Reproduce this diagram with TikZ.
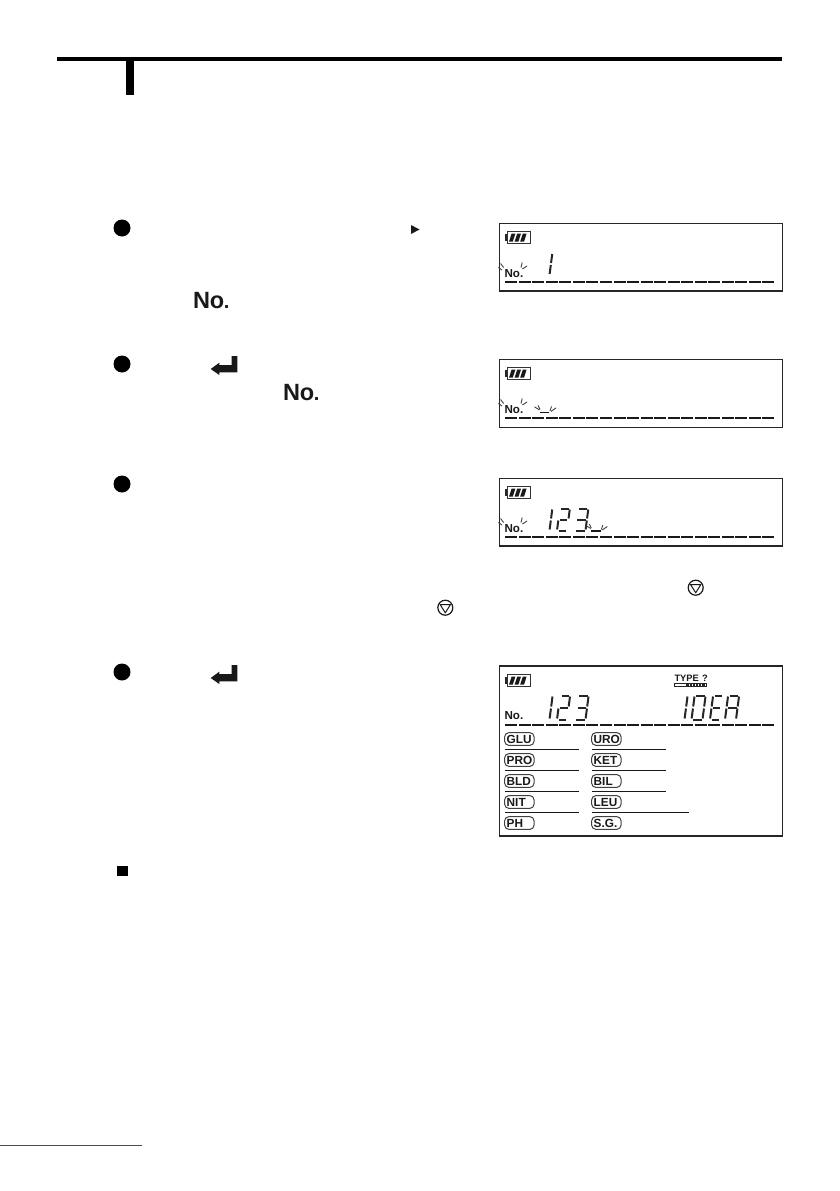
\documentclass[tikz,border=0pt]{standalone}
\usepackage{fontspec}
\setmainfont{Liberation Sans}
\newcommand{\ssz}[1]{\fontsize{#1}{#1}\selectfont}
\tikzset{
  x=1pt,y=-1pt,
  lcdframe/.style={draw=black!85,line width=1.1pt},
  seg/.style={line width=2pt,draw=black!85,line cap=butt},
  pill/.style={draw=black!75,line width=1pt,rounded corners=4pt},
  rowline/.style={draw=black!90,line width=1pt},
  spark/.style={draw=black!75,line width=.9pt},
  lcdtext/.style={inner sep=0pt,anchor=base west,text=black!90},
  bigdot/.style={circle,fill=black,inner sep=0pt,minimum size=17pt},
  downbtn/.style={circle,draw=black!90,line width=1.2pt,inner sep=0pt,minimum size=15pt},
}
% seven-segment digit: #1,#2 bottom-left, #3 width, #4 height, #5 segment list
\newcommand{\segdigit}[5]{%
  \begin{scope}[shift={(#1,#2)},xslant=0.13]
  \foreach \s in {#5}{%
    \ifnum\s=1 \draw[seg] (1.5,-#4) -- (#3-1,-#4);\fi
    \ifnum\s=2 \draw[seg] (#3,-#4+1) -- (#3,-#4/2-1);\fi
    \ifnum\s=3 \draw[seg] (#3,-#4/2+1) -- (#3,-1);\fi
    \ifnum\s=4 \draw[seg] (1.5,0) -- (#3-1,0);\fi
    \ifnum\s=5 \draw[seg] (0,-#4/2+1) -- (0,-1);\fi
    \ifnum\s=6 \draw[seg] (0,-#4+1) -- (0,-#4/2-1);\fi
    \ifnum\s=7 \draw[seg] (1.5,-#4/2) -- (#3-1,-#4/2);\fi
  }%
  \end{scope}}
% battery: #1 = y of body top
\newcommand{\battery}[1]{%
  \begin{scope}[shift={(0,#1)}]
  \draw[draw=black!80,line width=1pt] (507.6,-0.2) rectangle (530,11.8);
  \fill[black!85] (504.8,2.5) rectangle (507.2,9.5);
  \fill[black!90] (509,9.9) -- (511.6,1.9) -- (515.4,1.9) -- (512.8,9.9) -- cycle;
  \fill[black!90] (514.6,9.9) -- (517.2,1.9) -- (521,1.9) -- (518.4,9.9) -- cycle;
  \fill[black!90] (520.2,9.9) -- (522.8,1.9) -- (526.6,1.9) -- (524,9.9) -- cycle;
  \end{scope}}
% LCD dashed baseline: #1 = y
\newcommand{\lcddash}[1]{%
  \foreach \i in {0,...,19}
    \draw[black!90,line width=1.7pt] (505.3+13.53*\i,#1) -- ++(12,0);}
% "No." : #1 baseline y
\newcommand{\lcdno}[1]{\node[lcdtext] at (504.4,#1) {\ssz{11.6}\bfseries No.};}
% sparks around No.: #1 baseline y
\newcommand{\nosparks}[1]{%
  \draw[spark] (500.6,#1-13.5) -- (503.6,#1-9.5);
  \draw[spark] (498.4,#1-9.5) -- (502,#1-7);
  \draw[spark] (522.2,#1-14.5) -- (521,#1-9.5);
  \draw[spark] (527,#1-11) -- (522.4,#1-8);}
% cursor with sparks: #1 x, #2 y
\newcommand{\cursorspark}[2]{%
  \draw[black!90,line width=1.7pt] (#1,#2) -- ++(9.4,0);
  \draw[spark] (#1-5.5,#2-5.5) -- (#1-.5,#2-2.5);
  \draw[spark] (#1-2,#2-7) -- (#1,#2-3);
  \draw[spark] (#1+11.5,#2-6) -- (#1+10,#2-1.5);
  \draw[spark] (#1+16,#2-4.5) -- (#1+11,#2-1);}
\newcommand{\enterkey}[1]{%
  \fill[black!90,shift={(0,#1)}] (231.7,0) -- (237.3,0) -- (237.3,16.3) -- (219.3,16.3) -- (219.3,19) -- (210.7,13) -- (219.3,6.7) -- (219.3,9) -- (231.7,9) -- cycle;}
\newcommand{\bignum}[2]{\node[lcdtext] at (#1,#2) {\ssz{23.5}\bfseries N\kern-.3pt o\kern-.4pt\ssz{20}.};}
\newcommand{\pilllabel}[4]{% x,y,text,name
  \draw[pill] (#1,#2) rectangle ++(29.3,12.6);
  \node[lcdtext] (#4) at (#1+1.8,#2+10.8) {\ssz{11.8}\bfseries #3};}
\begin{document}
\begin{tikzpicture}
\useasboundingbox (0,0) rectangle (839,1191);
\fill[white] (0,0) rectangle (839,1191);
% heading
\fill[black] (56.7,57.2) rectangle (782,61.4);
\fill[black] (126,57.2) rectangle (134.3,95);
% bullets
\node[bigdot] (b1) at (122,228) {};
\node[bigdot] (b2) at (122,364) {};
\node[bigdot] (b3) at (122,484) {};
\node[bigdot] (b4) at (122,672) {};
\fill[black!90] (411,225) -- (419.5,229.5) -- (411,234) -- cycle;
\bignum{193}{308.3}
\bignum{283}{400}
\enterkey{356}
\enterkey{665}
\node[downbtn] (d1) at (695.7,587.7) {};
\node[downbtn] (d2) at (445.3,607.7) {};
\draw[black!90,line width=1pt,line join=round] (690.5,584.5) -- (700.9,584.5) -- (695.7,592.8) -- cycle;
\draw[black!90,line width=1pt,line join=round] (440.1,604.5) -- (450.5,604.5) -- (445.3,612.8) -- cycle;
\fill[black] (116.5,865.5) rectangle (127.5,876);
\draw[black!70,line width=1.3pt] (0,1145.3) -- (142,1145.3);
% panel 1
\draw[lcdframe] (499.3,223.3) rectangle (782.7,291);
\battery{231.7}
\lcdno{277}
\nosparks{277}
\lcddash{281.7}
\segdigit{549.5}{275}{0}{22}{2,3}
% panel 2
\draw[lcdframe] (499.3,359.3) rectangle (782.7,427.3);
\battery{367.7}
\lcdno{413}
\nosparks{413}
\lcddash{417.7}
\cursorspark{540}{412.4}
% panel 3
\draw[lcdframe] (499.3,478.3) rectangle (782.7,546);
\battery{486.7}
\lcdno{532}
\nosparks{532}
\lcddash{536.7}
\segdigit{549.5}{530.5}{0}{22}{2,3}
\segdigit{557}{530.5}{10}{22}{1,2,7,5,4}
\segdigit{574.5}{530.5}{11}{22}{1,2,7,3,4}
\cursorspark{591.3}{531}
% panel 4
\draw[lcdframe] (499.3,666) rectangle (782.7,836);
\battery{674.7}
\lcdno{719.5}
\lcddash{724.7}
\segdigit{549.5}{719.5}{0}{24}{2,3}
\segdigit{557}{719.5}{10}{24}{1,2,7,5,4}
\segdigit{574.5}{719.5}{11}{24}{1,2,7,3,4}
\segdigit{684.5}{719.5}{0}{24}{2,3}
\segdigit{691.5}{719.5}{11}{24}{1,2,3,4,5,6}
\segdigit{710}{719.5}{9.5}{24}{1,6,7,5,4}
\segdigit{725}{719.5}{11}{24}{1,2,3,5,6,7}
\node[lcdtext] (typeq) at (674.3,681) {\ssz{9.3}\bfseries TYPE\kern3.2pt ?};
\draw[black!85,line width=.7pt] (674.3,683) rectangle (706.7,686.5);
\foreach \a in {676.5,679.5}\fill[white] (\a,683.6) rectangle ++(1.2,2.3);
\fill[black!85] (686,683) rectangle (706.7,686.5);
\foreach \a in {688.5,691.7,694.9,698.1,701.3,704.5}\fill[white] (\a,684) rectangle ++(.8,1.5);
\foreach \yy/\ta/\tb/\i in {732.7/GLU/URO/0,753.7/PRO/KET/1,774.7/BLD/BIL/2,795.7/NIT/LEU/3,816.7/PH/S.G./4}{
  \pilllabel{504.7}{\yy}{\ta}{pa\i}
  \pilllabel{591.7}{\yy}{\tb}{pb\i}
}
\foreach \yy in {749.3,770.3,791.3,812.3}\draw[rowline] (505,\yy) -- (579,\yy);
\foreach \yy in {749.3,770.3,791.3}\draw[rowline] (592,\yy) -- (665.7,\yy);
\draw[rowline] (592,812.3) -- (689,812.3);
\end{tikzpicture}
\end{document}
